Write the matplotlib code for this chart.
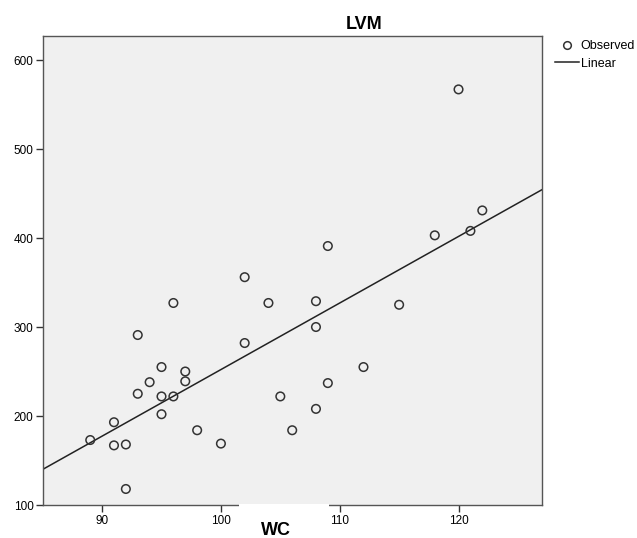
import matplotlib
matplotlib.use("Agg")
import matplotlib.pyplot as plt
from matplotlib.patches import Rectangle
from matplotlib.lines import Line2D
import numpy as np

plt.rcParams["font.family"] = ["Liberation Sans", "DejaVu Sans"]

wc = [89, 91, 91, 92, 92, 93, 93, 94, 95, 95, 95, 96, 96, 97, 97, 98, 100,
      102, 102, 104, 105, 106, 108, 108, 108, 109, 109, 112, 115, 118, 120,
      121, 122]
lvm = [173, 193, 167, 168, 118, 291, 225, 238, 255, 222, 202, 222, 327, 250,
       239, 184, 169, 356, 282, 327, 222, 184, 329, 300, 208, 391, 237, 255,
       325, 403, 567, 408, 431]
x_ticks = [90, 100, 110, 120]
y_ticks = [100, 200, 300, 400, 500, 600]

W, H = 637, 538
fig = plt.figure(figsize=(W / 100, H / 100), dpi=100)
ax = fig.add_axes([42.7 / W, 33 / H, 499 / W, 469 / H])
ax.set_facecolor("#f0f0f0")

ax.scatter(wc, lvm, s=38, facecolors="none", edgecolors="#333333",
           linewidths=1.1, zorder=3)

# linear fit
slope, icpt = np.polyfit(wc, lvm, 1)
xs = np.array([85, 127])
ax.plot(xs, slope * xs + icpt, color="#222222", lw=1.1, zorder=2)

ax.set_xlim(85, 127)
ax.set_ylim(100, 627)
ax.set_xticks(x_ticks)
ax.set_yticks(y_ticks)
ax.tick_params(labelsize=8.5, length=5, width=1, color="#333333")
ax.tick_params(axis="x", pad=2.5)
ax.tick_params(axis="y", pad=1.5)
for s in ax.spines.values():
    s.set_color("#555555")
    s.set_linewidth(1.0)

fig.text(364 / W, 1 - 24.5 / H, "LVM", ha="center", va="center",
         fontsize=13, fontweight="bold")

# white box behind x-axis label, cutting the bottom spine
fig.patches.append(Rectangle((239 / W, 0), 90 / W, 34.5 / H,
                             transform=fig.transFigure, facecolor="white",
                             edgecolor="none", zorder=5))
fig.text(276 / W, 1 - 530.5 / H, "WC", ha="center", va="center",
         fontsize=13, fontweight="bold", zorder=6)

handles = [
    Line2D([], [], marker="o", ls="none", markerfacecolor="none",
           markeredgecolor="#333333", markersize=5.5, markeredgewidth=1.1),
    Line2D([], [], color="#222222", lw=1.1),
]
fig.legend(handles, ["Observed", "Linear"], loc="upper left",
           bbox_to_anchor=(555 / W, 1 - 40 / H), frameon=False,
           fontsize=9, handlelength=1.9, handletextpad=0.15,
           labelspacing=0.45, borderpad=0, borderaxespad=0)

fig.savefig("out.png", dpi=100)
